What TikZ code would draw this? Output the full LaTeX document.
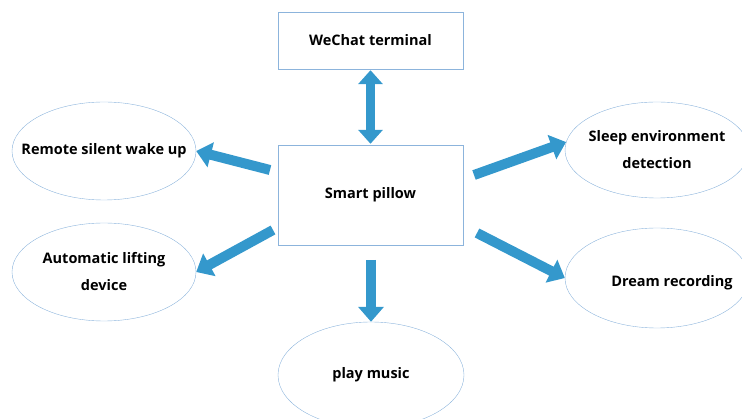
\documentclass[tikz,border=0pt]{standalone}
\usepackage{fontspec}
\setmainfont{Open Sans}
\usetikzlibrary{arrows.meta,shapes.geometric}

\definecolor{arrowblue}{RGB}{52,152,204}
\definecolor{edgeblue}{RGB}{140,180,220}

\begin{document}
\begin{tikzpicture}[x=1pt,y=-1pt,
    font=\bfseries\fontsize{14.5}{27}\selectfont,
    bigarrow/.style={draw=arrowblue, line width=10pt,
      -{Triangle[length=15pt,width=25pt]}},
    says/.style={label={[align=center]center:#1}}]
  \tikzstyle{box}=[draw=edgeblue, rectangle, inner sep=0pt, minimum width=185pt]
  \tikzstyle{oval}=[draw=edgeblue, ellipse, inner sep=0pt,
    minimum width=184pt, minimum height=98pt]
  \useasboundingbox (0,0) rectangle (742,419);

  \node[box, minimum height=57pt]  (wechat) at (370.5,40.5) {WeChat terminal};
  \node[box, minimum height=100pt] (pillow) at (370.5,195)  {Smart pillow};

  \node[oval, says={Remote silent wake up}] (wake) at (104,151) {};
  \node[oval, says={Automatic lifting\\device}] (lift) at (104,272) {};
  \node[oval, minimum height=96pt, says={Sleep environment\\detection}] (sleep) at (657,150) {};
  \node[oval, minimum height=100pt,
    label={[xshift=15pt,yshift=-5pt]center:Dream recording}] (dream) at (657,278) {};
  \node[oval, minimum width=186pt, minimum height=106pt, says={play music}] (music) at (371,375) {};

  % tails of the block arrows
  \coordinate (t1) at (270,170);
  \coordinate (t2) at (273,230);
  \coordinate (t3) at (474,175);
  \coordinate (t4) at (477,233);
  \coordinate (t5) at (371,260);

  \draw[bigarrow, line width=9pt, {Triangle[length=14pt,width=24pt]}-{Triangle[length=14pt,width=24pt]},
    shorten <=1pt, shorten >=1pt] (wechat.south) -- (pillow.north);
  \draw[bigarrow] (t1) -- (wake.east);
  \draw[bigarrow] (t2) -- (lift.east);
  \draw[bigarrow] (t3) -- (sleep.175);
  \draw[bigarrow] (t4) -- (dream.west);
  \draw[bigarrow] (t5) -- (music.north);
\end{tikzpicture}
\end{document}
